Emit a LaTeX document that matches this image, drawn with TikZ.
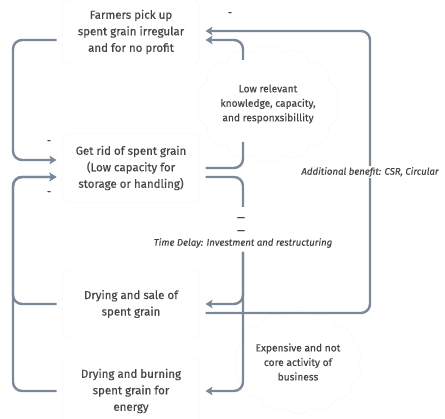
\documentclass[tikz,border=0pt]{standalone}
\usepackage{fontspec}
\setmainfont[FakeBold=0.45]{Fira Sans}
\usetikzlibrary{arrows.meta,calc,shapes.symbols}
\definecolor{flowc}{HTML}{7A8898}
\definecolor{txt}{HTML}{454545}
\definecolor{faint}{HTML}{F5F5F5}
\begin{document}
\begin{tikzpicture}[x=1pt,y=-1pt,
  flow/.style={draw=flowc, line width=2.4pt, rounded corners=9pt},
  arr/.style={flow, -{Stealth[length=7pt,width=8.5pt,inset=1.5pt]}},
  stock/.style={draw=faint, rounded corners=6pt, minimum width=137pt,
    outer xsep=6pt, align=center, text=txt,
    font=\fontsize{11.5}{16.5}\selectfont},
  valve/.style={cloud, cloud puffs=14, cloud puff arc=110, aspect=1.3,
    draw=faint, align=center, text=txt, inner sep=0pt,
    font=\fontsize{10.2}{14.5}\selectfont},
  note/.style={text=txt, font=\fontsize{9.6}{11}\selectfont\itshape,
    fill=white, inner sep=1pt},
  tick/.style={text=txt, font=\fontsize{10}{10}\selectfont, inner sep=0pt}
]
\useasboundingbox (0,0) rectangle (445,419);

% stocks
\node[stock, minimum height=64pt] (farm) at (131,32)
  {Farmers pick up\\spent grain irregular\\and for no profit};
\node[stock, minimum height=69pt] (getrid) at (131,168)
  {Get rid of spent grain\\(Low capacity for\\storage or handling)};
\node[stock, minimum height=68pt] (sale) at (131,304)
  {Drying and sale of\\spent grain};
\node[stock, minimum height=68pt] (burn) at (131,391)
  {Drying and burning\\spent grain for\\energy};

% valves
\node[valve, minimum width=120pt, minimum height=92pt] (low) at (268,104)
  {Low relevant\\knowledge, capacity,\\and responxsibillity};
\node[valve, minimum width=110pt, minimum height=81pt] (exp) at (298,362)
  {Expensive and not\\core activity of\\business};

% connector ends at the valves and the delay
\coordinate (lowin) at (243,142);
\coordinate (lowout) at (243,60);
\coordinate (delayin) at (243,207);
\coordinate (delayout) at (243,252);

% left loop: farmers and drying back to getting rid
\draw[arr] ($(farm.west)+(0,8)$) -| (13,100) |- ($(getrid.west)+(0,-8)$);
\draw[arr] (sale.west) -| (13,250) |- ($(getrid.west)+(0,9)$);
\draw[arr] (burn.west) -| (13,250) |- ($(getrid.west)+(0,9)$);

% through the knowledge valve up to the farmers
\draw[flow] (getrid.east) -| (lowin);
\draw[arr] (lowout) |- ($(farm.east)+(0,8)$);

% delayed path down to the drying options
\draw[flow] ($(getrid.east)+(0,9)$) -| (delayin);
\draw[arr] (delayout) |- (sale.east);
\draw[arr] (delayout) |- (burn.east);

% outer loop from sale back to the farmers
\draw[arr] ($(sale.east)+(0,9)$) -| (370,200) |- ($(farm.east)+(0,-1)$);

% labels
\node[note] (benefit) at (370,172) {Additional benefit: CSR, Circular};
\node[note, fill=none] (delay) at (243,243) {Time Delay: Investment and restructuring};
\node[tick] (d1) at (241,219) {—};
\node[tick] (d2) at (241,232) {—};
\node[tick] (m1) at (230,14) {-};
\node[tick] (m2) at (49,142) {-};
\node[tick] (m3) at (49,193) {-};
\end{tikzpicture}
\end{document}
